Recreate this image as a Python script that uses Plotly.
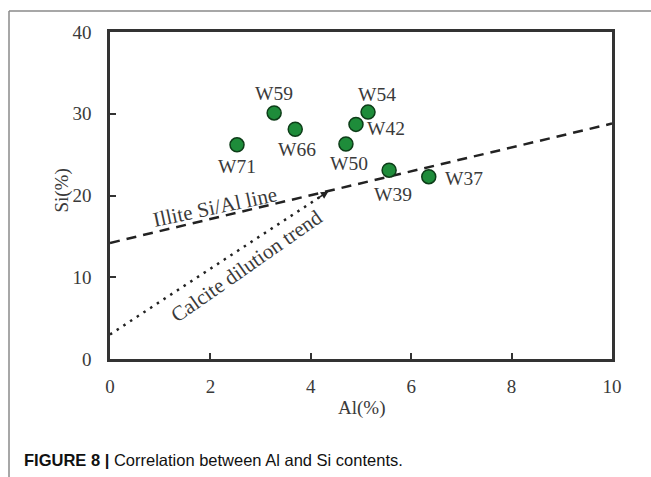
import plotly.graph_objects as go

# ---- data ----
sample_names = ["W71", "W59", "W66", "W50", "W42", "W54", "W39", "W37"]
al_values = [2.53, 3.27, 3.69, 4.70, 4.90, 5.14, 5.56, 6.35]
si_values = [26.2, 30.1, 28.1, 26.3, 28.7, 30.2, 23.1, 22.3]

illite_al = [0, 10]
illite_si = [14.2, 28.8]
calcite_al = [0, 4.35]
calcite_si = [3.0, 20.5]

x_ticks = [0, 2, 4, 6, 8, 10]
y_ticks = [0, 10, 20, 30, 40]

# label offsets (px) per sample
label_dx = [0, 0, 2, 3, 30, 9, 4, 35]
label_dy = [-22, 19, -20, -19, -4, 18, -24, -2]

SERIF = "Liberation Serif, Times New Roman, serif"
TXT = "#3a3a3a"

fig = go.Figure()

fig.add_trace(go.Scatter(
    x=illite_al, y=illite_si, mode="lines",
    line=dict(color="#222222", width=2.5, dash="10px,7px"),
    hoverinfo="skip", showlegend=False))

fig.add_trace(go.Scatter(
    x=calcite_al, y=calcite_si, mode="lines",
    line=dict(color="#222222", width=2.5, dash="2.5px,5.5px"),
    hoverinfo="skip", showlegend=False))

fig.add_trace(go.Scatter(
    x=al_values, y=si_values, mode="markers",
    marker=dict(size=14, color="#1e8c3a", line=dict(color="#0d3d18", width=1.5)),
    text=sample_names, showlegend=False))

annotations = []
for name, xv, yv, dx, dy in zip(sample_names, al_values, si_values, label_dx, label_dy):
    annotations.append(dict(
        x=xv, y=yv, xref="x", yref="y", text=name, showarrow=False,
        xshift=dx, yshift=dy, font=dict(family=SERIF, size=19.5, color=TXT)))

# arrow head at end of calcite trend
annotations.append(dict(
    x=calcite_al[-1], y=calcite_si[-1], xref="x", yref="y",
    ax=calcite_al[-1] - 0.25, ay=calcite_si[-1] - 1.0, axref="x", ayref="y",
    text="", showarrow=True, arrowhead=2, arrowsize=1, arrowwidth=1.5,
    arrowcolor="#222222"))

# line labels
annotations.append(dict(
    x=2.1, y=18.6, xref="x", yref="y", text="Illite Si/Al line", showarrow=False,
    textangle=-12, font=dict(family=SERIF, size=21, color=TXT)))
annotations.append(dict(
    x=2.72, y=11.4, xref="x", yref="y", text="Calcite dilution trend", showarrow=False,
    textangle=-35, font=dict(family=SERIF, size=21, color=TXT)))

# axis titles
annotations.append(dict(
    x=0.5, y=0, xref="paper", yref="paper", text="Al(%)", showarrow=False,
    xanchor="center", yanchor="middle",
    yshift=-49, font=dict(family=SERIF, size=19, color=TXT)))
annotations.append(dict(
    x=0, y=0.515, xref="paper", yref="paper", text="Si(%)", showarrow=False,
    xanchor="center", yanchor="middle",
    textangle=-90, xshift=-48, font=dict(family=SERIF, size=19, color=TXT)))

# caption
annotations.append(dict(
    x=-0.1753, y=-0.309, xref="paper", yref="paper", xanchor="left", yanchor="middle",
    text="<b>FIGURE 8 |</b> Correlation between Al and Si contents.",
    showarrow=False, font=dict(family="Liberation Sans, Arial, sans-serif", size=16.5, color="#111111")))

shapes = [
    dict(type="line", xref="paper", yref="paper", x0=-0.2012, x1=1.08, y0=1.0642, y1=1.0642,
         line=dict(color="#8a8a8a", width=1.5)),
    dict(type="line", xref="paper", yref="paper", x0=-0.2012, x1=-0.2012, y0=1.0642, y1=-0.37,
         line=dict(color="#8a8a8a", width=1.5)),
]

axis_common = dict(
    showgrid=False, zeroline=False, showline=True, mirror=True,
    linecolor="#333333", linewidth=2.5,
    ticks="inside", ticklen=6, tickwidth=2, tickcolor="#333333",
    tickfont=dict(family=SERIF, size=19, color=TXT),
)

fig.update_layout(
    width=651, height=477,
    margin=dict(l=110, r=39, t=32, b=118),
    paper_bgcolor="white", plot_bgcolor="white",
    xaxis=dict(range=[0, 10], tickvals=x_ticks, ticklabelstandoff=8, **axis_common),
    yaxis=dict(range=[0, 40], tickvals=y_ticks, ticklabelstandoff=12, **axis_common),
    annotations=annotations, shapes=shapes,
)

fig.write_html("out.html", config={"displayModeBar": False},
               post_script="document.body.style.margin='0';")
